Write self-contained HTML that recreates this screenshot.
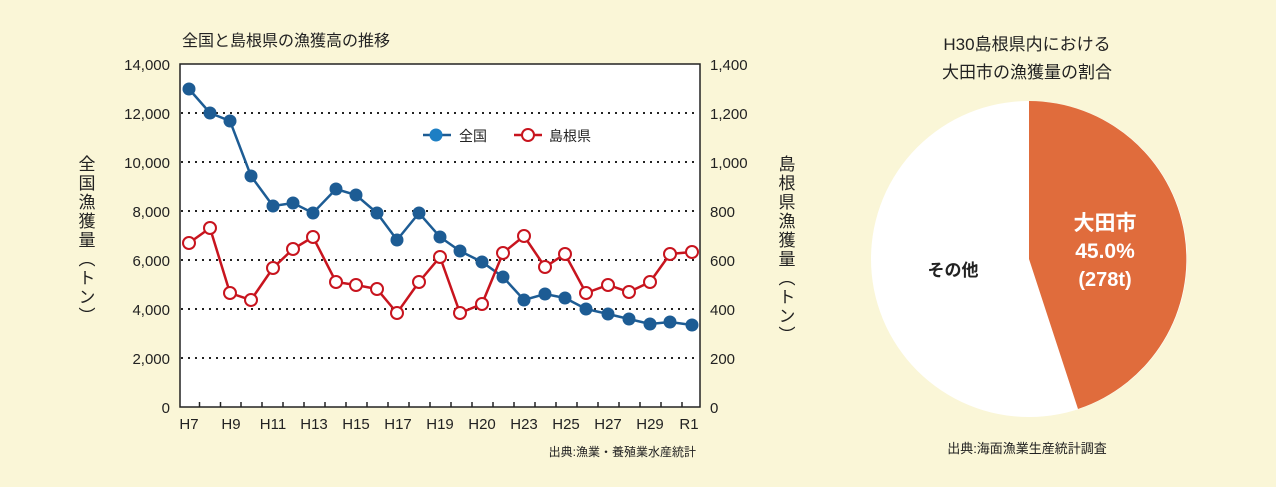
<!DOCTYPE html>
<html><head><meta charset="utf-8"><style>
body{margin:0;background:#faf6d7;}
svg{display:block;font-family:"Liberation Sans","Noto Sans CJK JP",sans-serif;}
</style></head><body>
<svg width="1276" height="487" viewBox="0 0 1276 487" xmlns="http://www.w3.org/2000/svg">
<rect width="1276" height="487" fill="#faf6d7"/>
<text x="182" y="46" font-size="16" fill="#222">全国と島根県の漁獲高の推移</text>
<rect x="180" y="64" width="520" height="343" fill="#fff" stroke="#222" stroke-width="1.5"/>
<g stroke="#222" stroke-width="2" stroke-dasharray="2,5">
<line x1="181" y1="113" x2="699" y2="113"/><line x1="181" y1="162" x2="699" y2="162"/>
<line x1="181" y1="211" x2="699" y2="211"/><line x1="181" y1="260" x2="699" y2="260"/>
<line x1="181" y1="309" x2="699" y2="309"/><line x1="181" y1="358" x2="699" y2="358"/>
</g>
<g stroke="#222" stroke-width="1.5">
<line x1="199.5" y1="407" x2="199.5" y2="402"/><line x1="220.5" y1="407" x2="220.5" y2="402"/><line x1="241" y1="407" x2="241" y2="402"/><line x1="262" y1="407" x2="262" y2="402"/><line x1="283" y1="407" x2="283" y2="402"/><line x1="304" y1="407" x2="304" y2="402"/><line x1="325" y1="407" x2="325" y2="402"/><line x1="346" y1="407" x2="346" y2="402"/><line x1="367" y1="407" x2="367" y2="402"/><line x1="388" y1="407" x2="388" y2="402"/><line x1="409" y1="407" x2="409" y2="402"/><line x1="430" y1="407" x2="430" y2="402"/><line x1="451" y1="407" x2="451" y2="402"/><line x1="472" y1="407" x2="472" y2="402"/><line x1="493" y1="407" x2="493" y2="402"/><line x1="514" y1="407" x2="514" y2="402"/><line x1="535" y1="407" x2="535" y2="402"/><line x1="556" y1="407" x2="556" y2="402"/><line x1="577" y1="407" x2="577" y2="402"/><line x1="598" y1="407" x2="598" y2="402"/><line x1="619" y1="407" x2="619" y2="402"/><line x1="640" y1="407" x2="640" y2="402"/><line x1="661" y1="407" x2="661" y2="402"/><line x1="682" y1="407" x2="682" y2="402"/>
</g>
<g font-size="15" fill="#222" text-anchor="end">
<text x="170" y="70">14,000</text><text x="170" y="119">12,000</text><text x="170" y="168">10,000</text><text x="170" y="217">8,000</text><text x="170" y="266">6,000</text><text x="170" y="315">4,000</text><text x="170" y="364">2,000</text><text x="170" y="413">0</text>
</g>
<g font-size="15" fill="#222">
<text x="710" y="70">1,400</text><text x="710" y="119">1,200</text><text x="710" y="168">1,000</text><text x="710" y="217">800</text><text x="710" y="266">600</text><text x="710" y="315">400</text><text x="710" y="364">200</text><text x="710" y="413">0</text>
</g>
<g font-size="15" fill="#222" text-anchor="middle">
<text x="189" y="429">H7</text><text x="231" y="429">H9</text><text x="273" y="429">H11</text><text x="314" y="429">H13</text><text x="356" y="429">H15</text><text x="398" y="429">H17</text><text x="440" y="429">H19</text><text x="482" y="429">H20</text><text x="524" y="429">H23</text><text x="566" y="429">H25</text><text x="608" y="429">H27</text><text x="650" y="429">H29</text><text x="689" y="429">R1</text>
</g>
<text x="696" y="456" font-size="12" fill="#222" text-anchor="end">出典:漁業・養殖業水産統計</text>
<text font-size="17" fill="#222" x="85" y="155" style="writing-mode:vertical-rl;letter-spacing:2px">全国漁獲量（トン）</text>
<text font-size="17" fill="#222" x="785" y="155" style="writing-mode:vertical-rl;letter-spacing:2px">島根県漁獲量（トン）</text>
<polyline fill="none" stroke="#1d5c94" stroke-width="2.5" points="189,89 210,113 230,121 251,176 273,206 293,203 313,213 336,189 356,195 377,213 397,240 419,213 440,237 460,251 482,262 503,277 524,300 545,294 565,298 586,309 608,314 629,319 650,324 670,322 692,325"/>
<g fill="#1d5c94">
<circle cx="189" cy="89" r="6.5"/><circle cx="210" cy="113" r="6.5"/><circle cx="230" cy="121" r="6.5"/><circle cx="251" cy="176" r="6.5"/><circle cx="273" cy="206" r="6.5"/><circle cx="293" cy="203" r="6.5"/><circle cx="313" cy="213" r="6.5"/><circle cx="336" cy="189" r="6.5"/><circle cx="356" cy="195" r="6.5"/><circle cx="377" cy="213" r="6.5"/><circle cx="397" cy="240" r="6.5"/><circle cx="419" cy="213" r="6.5"/><circle cx="440" cy="237" r="6.5"/><circle cx="460" cy="251" r="6.5"/><circle cx="482" cy="262" r="6.5"/><circle cx="503" cy="277" r="6.5"/><circle cx="524" cy="300" r="6.5"/><circle cx="545" cy="294" r="6.5"/><circle cx="565" cy="298" r="6.5"/><circle cx="586" cy="309" r="6.5"/><circle cx="608" cy="314" r="6.5"/><circle cx="629" cy="319" r="6.5"/><circle cx="650" cy="324" r="6.5"/><circle cx="670" cy="322" r="6.5"/><circle cx="692" cy="325" r="6.5"/>
</g>
<polyline fill="none" stroke="#c8141e" stroke-width="2.5" points="189,243 210,228 230,293 251,300 273,268 293,249 313,237 336,282 356,285 377,289 397,313 419,282 440,257 460,313 482,304 503,253 524,236 545,267 565,254 586,293 608,285 629,292 650,282 670,254 692,252"/>
<g fill="#fff" stroke="#c8141e" stroke-width="2">
<circle cx="189" cy="243" r="6"/><circle cx="210" cy="228" r="6"/><circle cx="230" cy="293" r="6"/><circle cx="251" cy="300" r="6"/><circle cx="273" cy="268" r="6"/><circle cx="293" cy="249" r="6"/><circle cx="313" cy="237" r="6"/><circle cx="336" cy="282" r="6"/><circle cx="356" cy="285" r="6"/><circle cx="377" cy="289" r="6"/><circle cx="397" cy="313" r="6"/><circle cx="419" cy="282" r="6"/><circle cx="440" cy="257" r="6"/><circle cx="460" cy="313" r="6"/><circle cx="482" cy="304" r="6"/><circle cx="503" cy="253" r="6"/><circle cx="524" cy="236" r="6"/><circle cx="545" cy="267" r="6"/><circle cx="565" cy="254" r="6"/><circle cx="586" cy="293" r="6"/><circle cx="608" cy="285" r="6"/><circle cx="629" cy="292" r="6"/><circle cx="650" cy="282" r="6"/><circle cx="670" cy="254" r="6"/><circle cx="692" cy="252" r="6"/>
</g>
<line x1="423" y1="135" x2="451" y2="135" stroke="#1d5c94" stroke-width="2.5"/>
<circle cx="436" cy="135" r="6.5" fill="#1d7fc4"/>
<text x="459" y="141" font-size="14" fill="#222">全国</text>
<line x1="514" y1="135" x2="542" y2="135" stroke="#c8141e" stroke-width="2.5"/>
<circle cx="528" cy="135" r="6" fill="#fff" stroke="#c8141e" stroke-width="2"/>
<text x="549" y="141" font-size="14" fill="#222">島根県</text>
<text x="1027" y="50" font-size="17" fill="#222" text-anchor="middle">H30島根県内における</text>
<text x="1027" y="78" font-size="17" fill="#222" text-anchor="middle">大田市の漁獲量の割合</text>
<circle cx="1029" cy="259" r="158" fill="#fff"/>
<path d="M1029,259 L1029,101 A158,158 0 0 1 1078,409 Z" fill="#e06c3c"/>
<text x="953" y="276" font-size="17" font-weight="bold" fill="#222" text-anchor="middle">その他</text>
<g fill="#fff" font-size="21" font-weight="bold" text-anchor="middle">
<text x="1105" y="230">大田市</text>
<text x="1105" y="258">45.0%</text>
<text x="1105" y="286" font-size="20">(278t)</text>
</g>
<text x="1027" y="453" font-size="13" fill="#222" text-anchor="middle">出典:海面漁業生産統計調査</text>
</svg>
</body></html>
